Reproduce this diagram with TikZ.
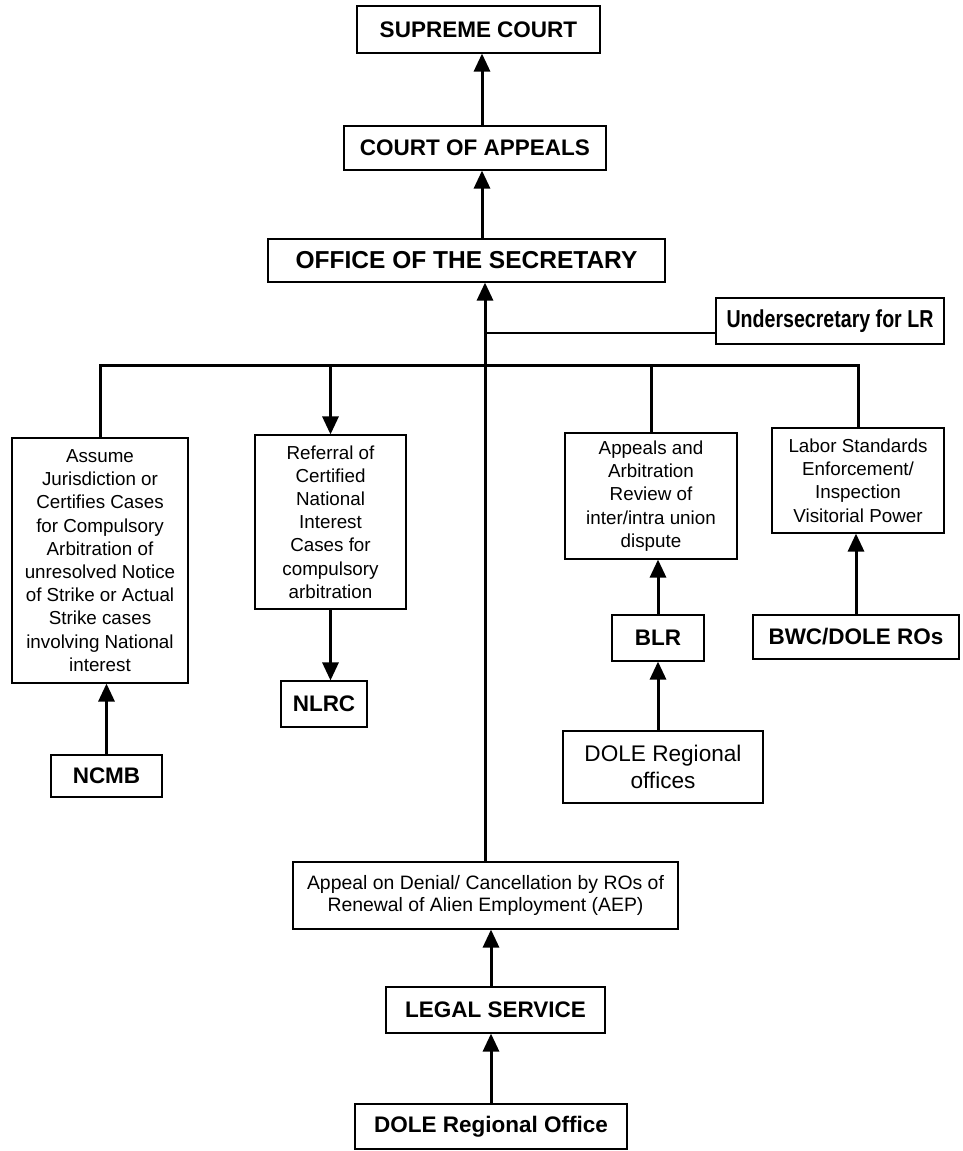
\documentclass[tikz,border=0pt]{standalone}
\usepackage{fontspec}
\setmainfont{Liberation Sans}
\newfontfamily\narrowfont[FakeStretch=0.8]{Liberation Sans}
\usetikzlibrary{arrows.meta,positioning}

\begin{document}
\begin{tikzpicture}[x=1pt, y=-1pt,
                    box/.style={draw, line width=1.1pt, inner sep=0pt, align=center},
                    title box/.style={box, font=\fontsize{22.5}{27}\selectfont\bfseries},
                    text box/.style={box, font=\fontsize{18.8}{23.2}\selectfont},
                    link/.style={line width=3pt},
                    arrow/.style={link, -{Triangle[width=16pt,length=18pt]}}]

  \useasboundingbox (0,0) rectangle (963,1151);

  % top of the ladder
  \node[title box, minimum width=243, minimum height=47] (sc) at (478.5,29.5) {SUPREME COURT};
  \node[title box, minimum width=262, minimum height=44] (ca) at (475,148) {COURT OF APPEALS};
  \node[title box, minimum width=397, minimum height=43, font=\fontsize{24.5}{28}\selectfont\bfseries]
    (os) at (466.5,260.5) {OFFICE OF THE SECRETARY};
  \node[box, minimum width=228, minimum height=46, font=\fontsize{24.5}{28}\narrowfont\bfseries]
    (usec) at (830,321) {Undersecretary for LR};

  % second row
  \node[text box, minimum width=176, minimum height=245] (assume) at (100,560.5)
    {Assume\\Jurisdiction or\\Certifies Cases\\for Compulsory\\Arbitration of\\unresolved Notice\\of Strike or Actual\\Strike cases\\involving National\\interest};
  \node[text box, minimum width=151, minimum height=174] (referral) at (330.5,522)
    {Referral of\\Certified\\National\\Interest\\Cases for\\compulsory\\arbitration};
  \node[text box, minimum width=172, minimum height=126] (appeals) at (651,496)
    {Appeals and\\Arbitration\\Review of\\inter/intra union\\dispute};
  \node[text box, minimum width=172, minimum height=105] (labor) at (858,480.5)
    {Labor Standards\\Enforcement/\\Inspection\\Visitorial Power};

  % offices below
  \node[title box, minimum width=111, minimum height=42] (ncmb) at (106.5,776) {NCMB};
  \node[title box, minimum width=86, minimum height=46] (nlrc) at (324,704) {NLRC};
  \node[title box, minimum width=92, minimum height=46] (blr) at (658,638) {BLR};
  \node[title box, minimum width=206, minimum height=44] (bwc) at (856,637) {BWC/DOLE ROs};
  \node[box, minimum width=200, minimum height=72, font=\fontsize{22.6}{27}\selectfont]
    (regoffices) at (663,767) {DOLE Regional\\offices};

  % bottom column
  \node[box, minimum width=385, minimum height=67, font=\fontsize{19.4}{22}\selectfont]
    (aep) at (485.5,895.5) {Appeal on Denial/ Cancellation by ROs of\\Renewal of Alien Employment (AEP)};
  \node[title box, minimum width=219, minimum height=46] (legal) at (495.5,1010) {LEGAL SERVICE};
  \node[title box, minimum width=272, minimum height=45] (regoffice) at (491,1126.5) {DOLE Regional Office};

  \coordinate (axis) at (482,0);
  \coordinate (spine) at (485,0);
  \coordinate (bus) at (0,365);
  \coordinate (usj) at (usec.west |- 0,333);

  % connectors
  \draw[arrow] (axis |- ca.north) -- (axis |- sc.south);
  \draw[arrow] (axis |- os.north) -- (axis |- ca.south);
  \draw[arrow] (spine |- aep.north) -- (spine |- os.south);
  \draw[line width=2pt] (spine |- usj) -- (usj);

  \draw[link] (assume.north) |- (labor.north |- bus) -- (labor.north);
  \draw[link] (appeals.north |- bus) -- (appeals.north);
  \draw[arrow] (referral.north |- bus) -- (referral.north);
  \draw[arrow] (referral.south) -- (referral.south |- nlrc.north);

  \draw[arrow] (ncmb.north) -- (ncmb.north |- assume.south);
  \draw[arrow] (blr.north) -- (blr.north |- appeals.south);
  \draw[arrow] (blr.south |- regoffices.north) -- (blr.south);
  \draw[arrow] (bwc.north) -- (bwc.north |- labor.south);

  \draw[arrow] (regoffice.north) -- (regoffice.north |- legal.south);
  \draw[arrow] (regoffice.north |- legal.north) -- (regoffice.north |- aep.south);
\end{tikzpicture}
\end{document}
